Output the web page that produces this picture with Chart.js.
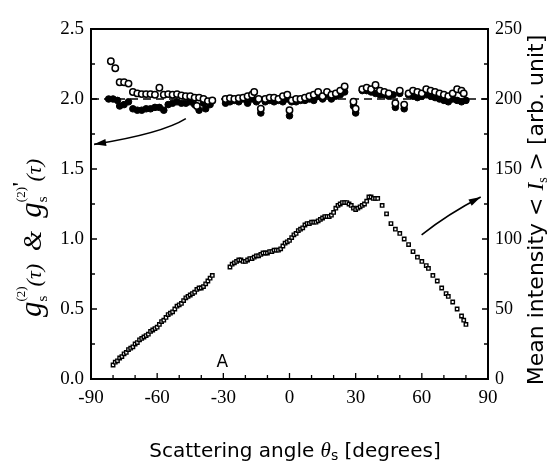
<!DOCTYPE html>
<html>
<head>
<meta charset="utf-8">
<script src="https://cdn.jsdelivr.net/npm/chart.js@4/dist/chart.umd.min.js"></script>
<style>
  html, body { margin:0; padding:0; background:#fff; }
  #wrap { width:555px; height:465px; position:relative; }
</style>
</head>
<body>
<div id="wrap"><canvas id="chart"></canvas></div>
<script>
// g_s^(2)(tau): open circles
const angleOpen = [-81,-79,-77,-75,-73,-71,-69,-67,-65,-63,-61,-59,-57,-55,-53,-51,-49,-47,-45,-43,-42,-41,-39,-37,-35,
  -29,-27,-25,-23,-21,-19,-17,-16,-14,-13,-11,-9,-7,-5,-3,-1,0,1,3,5,7,9,11,13,15,17,19,21,23,25,29,30,33,35,37,39,41,43,45,48,50,52,54,56,58,60,62,64,66,68,70,72,74,76,78,79];
const g2Open = [2.27,2.22,2.12,2.12,2.11,2.05,2.04,2.035,2.035,2.035,2.03,2.08,2.03,2.035,2.03,2.035,2.025,2.02,2.02,2.01,1.95,2.01,2.0,1.985,1.99,
  2.0,2.005,2.0,2.005,2.01,2.02,2.03,2.05,2.0,1.93,2.0,2.01,2.01,2.0,2.02,2.03,1.92,1.99,2.0,2.0,2.01,2.02,2.03,2.05,2.02,2.05,2.03,2.04,2.06,2.09,1.98,1.93,2.07,2.08,2.07,2.1,2.06,2.05,2.04,1.97,2.06,1.96,2.04,2.06,2.05,2.04,2.07,2.06,2.05,2.04,2.03,2.02,2.04,2.07,2.06,2.04];

// g_s^(2)'(tau): filled circles
const angleFilled = [-82,-80,-78,-77,-75,-73,-71,-69,-67,-65,-63,-61,-59,-57,-55,-53,-51,-49,-47,-45,-43,-41,-39,-38,-36,
  -29,-27,-25,-23,-21,-19,-17,-15,-13,-11,-9,-7,-5,-3,-1,0,1,3,5,7,9,11,13,15,17,19,21,23,25,29,30,33,35,37,39,41,43,45,47,48,50,52,54,56,58,60,62,64,66,68,70,72,74,76,78,80];
const g2Filled = [2.0,2.0,1.99,1.95,1.96,1.98,1.93,1.92,1.92,1.93,1.93,1.94,1.94,1.92,1.96,1.97,1.98,1.97,1.97,1.98,1.96,1.92,1.97,1.93,1.96,
  1.97,1.98,1.99,1.98,2.0,1.97,2.0,1.98,1.9,1.98,1.99,1.98,1.99,1.98,2.0,1.88,1.98,1.98,1.99,1.99,2.0,1.99,2.02,2.0,2.03,2.0,2.02,2.03,2.05,1.95,1.9,2.06,2.06,2.05,2.04,2.03,2.03,2.02,2.03,1.94,2.04,1.93,2.03,2.02,2.01,2.02,2.03,2.02,2.01,2.0,1.99,1.98,2.0,1.99,1.98,1.99];

// mean intensity <I_s> (right axis)
const angleIntensity = [-80,-79,-78,-77,-76,-75,-74,-73,-72,-71,-70,-69,-68,-67,-66,-65,-64,-63,-62,-61,-60,-59,-58,-57,-56,-55,-54,-53,-52,-51,-50,-49,-48,-47,-46,-45,-44,-43,-42,-41,-40,-39,-38,-37,-36,-35,
  -27,-26,-25,-24,-23,-22,-21,-20,-19,-18,-17,-16,-15,-14,-13,-12,-11,-10,-9,-8,-7,-6,-5,-4,-3,-2,-1,0,1,2,3,4,5,6,7,8,9,10,11,12,13,14,15,16,17,18,19,20,21,22,23,24,25,26,27,28,29,30,31,32,33,34,35,36,37,38,39,40,
  42,44,46,48,50,52,54,56,58,60,62,63,65,67,69,71,72,74,76,78,79,80];
const intensity = [10,12,13,15,16,18,19,21,22,23,25,26,28,29,30,31,32,34,35,36,37,39,41,42,44,46,47,48,50,52,53,54,56,58,59,60,61,62,64,65,65,66,68,70,72,74,
  80,82,83,84,85,85,84,84,85,86,86,87,88,88,89,90,90,90,91,91,92,92,92,93,95,97,98,99,101,103,104,106,107,108,110,111,111,112,112,112,113,114,115,116,116,116,117,119,122,124,125,126,126,126,125,124,122,121,122,123,124,125,127,130,130,129,129,129,
  124,118,111,107,104,100,96,91,87,84,81,79,74,70,65,61,59,55,50,45,42,39];

// dashed reference level
const refAngle = [-90, 90];
const refLevel = [2.0, 2.0];

const xTicks = [-90,-60,-30,0,30,60,90];
const yTicks = [0,0.5,1.0,1.5,2.0,2.5];
const y2Ticks = [0,50,100,150,200,250];

// annotation arrows: start, control, end (data coords)
const arrowLeft = [[-47,1.86],[-57.8,1.754],[-88.6,1.676]];
const arrowRight = [[59.9,103],[72,118],[86.7,130]];
const labelA = [-30.5, 0.12];

const pts = (xs, ys) => xs.map((x,i) => ({x:x, y:ys[i]}));
const SERIF = '"Liberation Serif", "DejaVu Serif", serif';
const SANS = '"DejaVu Sans", "Liberation Sans", sans-serif';

function drawRuns(ctx, runs, cx, cy) {
  let w = 0, parts = [];
  runs.forEach(r => {
    ctx.font = r.f;
    const rw = ctx.measureText(r.t).width;
    if (r.stack) {
      const prev = parts[parts.length-1];
      const adv = Math.max(prev.adv, rw);
      w += adv - prev.adv;
      prev.adv = adv;
      parts.push({r:r, x:prev.x, adv:0});
    } else {
      parts.push({r:r, x:w, adv:rw});
      w += rw;
    }
  });
  const x0 = cx - w/2;
  ctx.textBaseline = 'alphabetic';
  ctx.textAlign = 'left';
  ctx.fillStyle = '#000';
  parts.forEach(p => {
    ctx.font = p.r.f;
    ctx.fillText(p.r.t, x0 + p.x, cy + (p.r.dy || 0));
  });
}

function curveArrow(ctx, c, pts3) {
  const xs = c.scales.x;
  const ys = pts3.ys;
  const p = pts3.p.map(q => [xs.getPixelForValue(q[0]), ys.getPixelForValue(q[1])]);
  ctx.beginPath();
  ctx.moveTo(p[0][0], p[0][1]);
  ctx.quadraticCurveTo(p[1][0], p[1][1], p[2][0], p[2][1]);
  ctx.lineWidth = 1.6;
  ctx.strokeStyle = '#000';
  ctx.stroke();
  const ang = Math.atan2(p[2][1]-p[1][1], p[2][0]-p[1][0]);
  const L = 12, W = 3.5;
  ctx.beginPath();
  ctx.moveTo(p[2][0], p[2][1]);
  ctx.lineTo(p[2][0] - L*Math.cos(ang) + W*Math.sin(ang), p[2][1] - L*Math.sin(ang) - W*Math.cos(ang));
  ctx.lineTo(p[2][0] - L*Math.cos(ang) - W*Math.sin(ang), p[2][1] - L*Math.sin(ang) + W*Math.cos(ang));
  ctx.closePath();
  ctx.fillStyle = '#000';
  ctx.fill();
}

const decor = {
  id: 'decor',
  afterDraw(c) {
    const ctx = c.ctx, a = c.chartArea;
    const sx = c.scales.x, sy = c.scales.y, sy2 = c.scales.y2;
    ctx.save();
    // frame
    ctx.strokeStyle = '#000';
    ctx.lineWidth = 2;
    ctx.strokeRect(a.left, a.top, a.right - a.left, a.bottom - a.top);
    // inward ticks
    ctx.lineWidth = 1.3;
    ctx.beginPath();
    for (let v = -80; v < 90; v += 10) {
      const px = sx.getPixelForValue(v);
      const len = (v % 30 === 0) ? 6 : 4;
      ctx.moveTo(px, a.bottom); ctx.lineTo(px, a.bottom - len);
    }
    for (let v = 0.25; v < 2.5; v += 0.25) {
      const py = sy.getPixelForValue(v);
      const len = (Math.abs(v*2 - Math.round(v*2)) < 1e-6) ? 6 : 4;
      ctx.moveTo(a.left, py); ctx.lineTo(a.left + len, py);
    }
    for (let v = 25; v < 250; v += 25) {
      const py = sy2.getPixelForValue(v);
      const len = (v % 50 === 0) ? 6 : 4;
      ctx.moveTo(a.right, py); ctx.lineTo(a.right - len, py);
    }
    ctx.stroke();
    // arrows
    curveArrow(ctx, c, {p: arrowLeft, ys: sy});
    curveArrow(ctx, c, {p: arrowRight, ys: sy2});
    // label A
    ctx.fillStyle = '#000';
    ctx.font = '17px ' + SANS;
    ctx.textAlign = 'center';
    ctx.textBaseline = 'middle';
    ctx.fillText('A', sx.getPixelForValue(labelA[0]), sy.getPixelForValue(labelA[1]));

    // x title
    drawRuns(ctx, [
      {t:'Scattering angle ', f:'20px ' + SANS},
      {t:'θ', f:'italic 21px ' + SERIF},
      {t:'s', f:'14px ' + SANS, dy:3},
      {t:' [degrees]', f:'20px ' + SANS}
    ], 295, 457);

    // left title (rotated)
    ctx.save();
    ctx.translate(41, 238);
    ctx.rotate(-Math.PI/2);
    drawRuns(ctx, [
      {t:'g', f:'italic 31px ' + SERIF},
      {t:'s', f:'15px ' + SERIF, dy:6},
      {t:'(2)', f:'13px ' + SERIF, dy:-16, stack:true},
      {t:'(τ)', f:'italic 22px ' + SERIF},
      {t:'  &  ', f:'italic 26px ' + SERIF},
      {t:'g', f:'italic 31px ' + SERIF},
      {t:'s', f:'15px ' + SERIF, dy:6},
      {t:'(2)', f:'13px ' + SERIF, dy:-16, stack:true},
      {t:"'", f:'bold 20px ' + SERIF, dy:-14},
      {t:'(τ)', f:'italic 22px ' + SERIF}
    ], 0, 0);
    ctx.restore();

    // right title (rotated)
    ctx.save();
    ctx.translate(543, 210);
    ctx.rotate(-Math.PI/2);
    drawRuns(ctx, [
      {t:'Mean intensity < ', f:'22px ' + SANS},
      {t:'I', f:'italic 23px ' + SERIF},
      {t:'s', f:'14px ' + SERIF, dy:4},
      {t:' > [arb. unit]', f:'22px ' + SANS}
    ], 0, 0);
    ctx.restore();
    ctx.restore();
  }
};

new Chart(document.getElementById('chart'), {
  type: 'scatter',
  data: {
    datasets: [
      { label:'ref', data: pts(refAngle, refLevel), showLine:true, pointRadius:0, borderColor:'#000', borderWidth:1.4, borderDash:[8,5], order:4 },
      { label:'<Is>', data: pts(angleIntensity, intensity), yAxisID:'y2', pointStyle:'rect', pointRadius:2.4, borderWidth:1.4, borderColor:'#000', backgroundColor:'#fff', order:3 },
      { label:"g2'", data: pts(angleFilled, g2Filled), pointRadius:3.3, borderWidth:1, borderColor:'#000', backgroundColor:'#000', order:2 },
      { label:'g2', data: pts(angleOpen, g2Open), pointRadius:3.2, borderWidth:1.5, borderColor:'#000', backgroundColor:'#fff', order:1 }
    ]
  },
  options: {
    responsive: true,
    maintainAspectRatio: false,
    animation: false,
    devicePixelRatio: 1,
    layout: { padding: { top:29, left:0, right:0, bottom:0 } },
    plugins: { legend:{display:false}, tooltip:{enabled:false} },
    scales: {
      x: {
        type:'linear', min:-90, max:90,
        afterBuildTicks: s => { s.ticks = xTicks.map(v => ({value:v})); },
        afterFit: s => { s.height = 86; },
        grid: { display:false, drawTicks:false },
        border: { display:false },
        ticks: { color:'#000', padding:8, font:{ family:SERIF, size:19 }, maxRotation:0, callback: v => String(v) }
      },
      y: {
        type:'linear', min:0, max:2.5, position:'left',
        afterBuildTicks: s => { s.ticks = yTicks.map(v => ({value:v})); },
        afterFit: s => { s.width = 91; },
        grid: { display:false, drawTicks:false },
        border: { display:false },
        ticks: { color:'#000', padding:7, font:{ family:SERIF, size:19 }, callback: v => Number(v).toFixed(1) }
      },
      y2: {
        type:'linear', min:0, max:250, position:'right',
        afterBuildTicks: s => { s.ticks = y2Ticks.map(v => ({value:v})); },
        afterFit: s => { s.width = 67; },
        grid: { display:false, drawTicks:false },
        border: { display:false },
        ticks: { color:'#000', padding:7, font:{ family:SERIF, size:18 }, callback: v => String(v) }
      }
    }
  },
  plugins: [decor]
});
</script>
</body>
</html>
